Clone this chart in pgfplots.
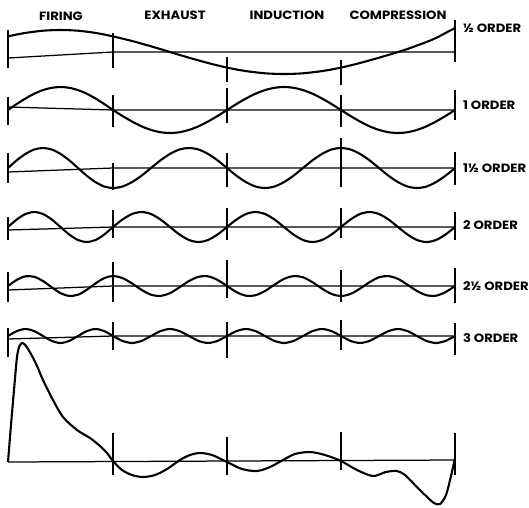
\documentclass[border=0pt]{standalone}
\usepackage{pgfplots}
\usepackage{pgfplotstable}
\pgfplotsset{compat=1.18}
\usepackage{fontspec}
\setmainfont{Poppins}[FakeStretch=1.1]

\pgfplotstableread{
x a b c d e f
8 36.4 110 168 227 286 336
16.75 34.5 104.0 160.3 219.5 279.9 331.1
25.5 32.9 98.5 153.9 214 276.3 329
34.25 31.7 93.7 149.5 212 276.8 331.1
43 30.7 90.1 148 214 281 336
51.75 30.2 87.8 149.5 219.5 287.3 340.9
60.5 30 87 153.9 227 293.1 343
69.25 30.2 87.8 160.3 234.5 295.9 340.9
78 30.7 90.1 168 240 294.7 336
86.75 31.7 93.7 175.7 242 289.8 331.1
95.5 32.9 98.5 182.1 240 283.4 329
104.25 34.5 104.0 186.5 234.5 278.1 331.1
113 36.4 110 188 227 276 336
122.5 38.6 116.0 186.5 219.5 278.1 340.9
132 41 121.5 182.1 214 283.4 343
141.5 43.6 126.3 175.7 212 289.8 340.9
151 46.3 129.9 168 214 294.7 336
160.5 49.1 132.2 160.3 219.5 295.9 331.1
170 52 133 153.9 227 293.1 329
179.5 54.9 132.2 149.5 234.5 287.3 331.1
189 57.7 129.9 148 240 281 336
198.5 60.4 126.3 149.5 242 276.8 340.9
208 63 121.5 153.9 240 276.3 343
217.5 65.4 116.0 160.3 234.5 279.9 340.9
227 67.6 110 168 227 286 336
236.5 69.5 104.0 175.7 219.5 292.1 331.1
246 71.1 98.5 182.1 214 295.7 329
255.5 72.3 93.7 186.5 212 295.2 331.1
265 73.3 90.1 188 214 291 336
274.5 73.8 87.8 186.5 219.5 284.7 340.9
284 74 87 182.1 227 278.9 343
293.5 73.8 87.8 175.7 234.5 276.1 340.9
303 73.3 90.1 168 240 277.3 336
312.5 72.3 93.7 160.3 242 282.2 331.1
322 71.1 98.5 153.9 240 288.6 329
331.5 69.5 104.0 149.5 234.5 293.9 331.1
341 67.6 110 148 227 296 336
350.5 65.4 116.0 149.5 219.5 293.9 340.9
360 63 121.5 153.9 214 288.6 343
369.5 60.4 126.3 160.3 212 282.2 340.9
379 57.7 129.9 168 214 277.3 336
388.5 54.9 132.2 175.7 219.5 276.1 331.1
398 52 133 182.1 227 278.9 329
407.5 49 132.2 186.5 234.5 284.7 331.1
417 45.5 129.9 188 240 291 336
426.5 42 126.3 186.5 242 295.2 340.9
436 38 121.5 182.1 240 295.7 343
445.5 33 116.0 175.7 234.5 292.1 340.9
455 28 110 168 227 286 336
}\waves

\pgfplotstableread{
x y
8 462
11 425
14 390
17 357
19.5 346
22.5 343
26 346
31 354
37 366
43 380
53 400
63 417
77 430
90 438
100 446
107 453
113 461
122 470
132 475
143 477
155 475
167 469
180 460
190 455
200 453
212 455
227 462
242 469
257 471
270 467
283 460
295 454
310 452
325 455
341 461
357 470
373 476
386 472
397 471
405 475
414 484
425 495
434 503
440 504
446 495
451 476
455 458
}\pressure

\begin{document}
\begin{tikzpicture}
\begin{axis}[
  width=529pt, height=507pt, scale only axis,
  xmin=0, xmax=529, ymin=0, ymax=507,
  y dir=reverse, hide axis, clip=false,
  unbounded coords=jump,
]
\path (axis cs:0,0) rectangle (axis cs:529,507);
% baselines
\addplot[black, line width=1.25pt] coordinates {(8,58) (113,52) (455,52) (nan,nan)
 (8,107) (113,110) (455,110) (nan,nan)
 (8,172) (113,168) (455,168) (nan,nan)
 (8,230) (113,227) (455,227) (nan,nan)
 (8,290) (113,286) (455,286) (nan,nan)
 (8,339) (113,336) (455,336) (nan,nan)
 (8,462) (455,460)};
% verticals
\addplot[black, line width=1.4pt] coordinates {
 (8,30) (8,68) (nan,nan) (113,33) (113,68) (nan,nan) (227,57) (227,82) (nan,nan) (341,60) (341,85) (nan,nan) (455,20) (455,62) (nan,nan)
 (8,97) (8,125) (nan,nan) (113,95) (113,127) (nan,nan) (227,88) (227,123) (nan,nan) (341,95) (341,127) (nan,nan) (455,90) (455,120) (nan,nan)
 (8,153) (8,183) (nan,nan) (113,163) (113,190) (nan,nan) (227,153) (227,187) (nan,nan) (341,138) (341,187) (nan,nan) (455,152) (455,185) (nan,nan)
 (8,217) (8,240) (nan,nan) (113,210) (113,238) (nan,nan) (227,208) (227,240) (nan,nan) (341,208) (341,238) (nan,nan) (455,212) (455,240) (nan,nan)
 (8,272) (8,302) (nan,nan) (113,262) (113,302) (nan,nan) (227,260) (227,298) (nan,nan) (341,270) (341,302) (nan,nan) (455,268) (455,303) (nan,nan)
 (8,328) (8,357) (nan,nan) (113,322) (113,350) (nan,nan) (227,322) (227,358) (nan,nan) (341,320) (341,350) (nan,nan) (455,323) (455,355) (nan,nan)
 (113,433) (113,475) (nan,nan) (227,437) (227,475) (nan,nan) (341,432) (341,470) (nan,nan) (455,433) (455,475)};
% waves
\addplot[black, line width=2.1pt, smooth] table[x=x, y=a] {\waves};
\addplot[black, line width=2.1pt, smooth] table[x=x, y=b] {\waves};
\addplot[black, line width=2.1pt, smooth] table[x=x, y=c] {\waves};
\addplot[black, line width=2.1pt, smooth] table[x=x, y=d] {\waves};
\addplot[black, line width=2.1pt, smooth] table[x=x, y=e] {\waves};
\addplot[black, line width=2.1pt, smooth] table[x=x, y=f] {\waves};
\addplot[black, line width=2.1pt, smooth] table[x=x, y=y] {\pressure};
% labels
\begin{scope}[font=\fontsize{12pt}{14pt}\selectfont\bfseries]
\node at (axis cs:61,16) {FIRING};
\node at (axis cs:175,15) {EXHAUST};
\node at (axis cs:287,15) {INDUCTION};
\node at (axis cs:398,15) {COMPRESSION};
\node[anchor=west, inner sep=0pt] at (axis cs:463,28) {½ ORDER};
\node[anchor=west, inner sep=0pt] at (axis cs:463,105) {1 ORDER};
\node[anchor=west, inner sep=0pt] at (axis cs:463,168) {1½ ORDER};
\node[anchor=west, inner sep=0pt] at (axis cs:463,225) {2 ORDER};
\node[anchor=west, inner sep=0pt] at (axis cs:463,286) {2½ ORDER};
\node[anchor=west, inner sep=0pt] at (axis cs:463,338) {3 ORDER};
\end{scope}
\end{axis}
\end{tikzpicture}
\end{document}
